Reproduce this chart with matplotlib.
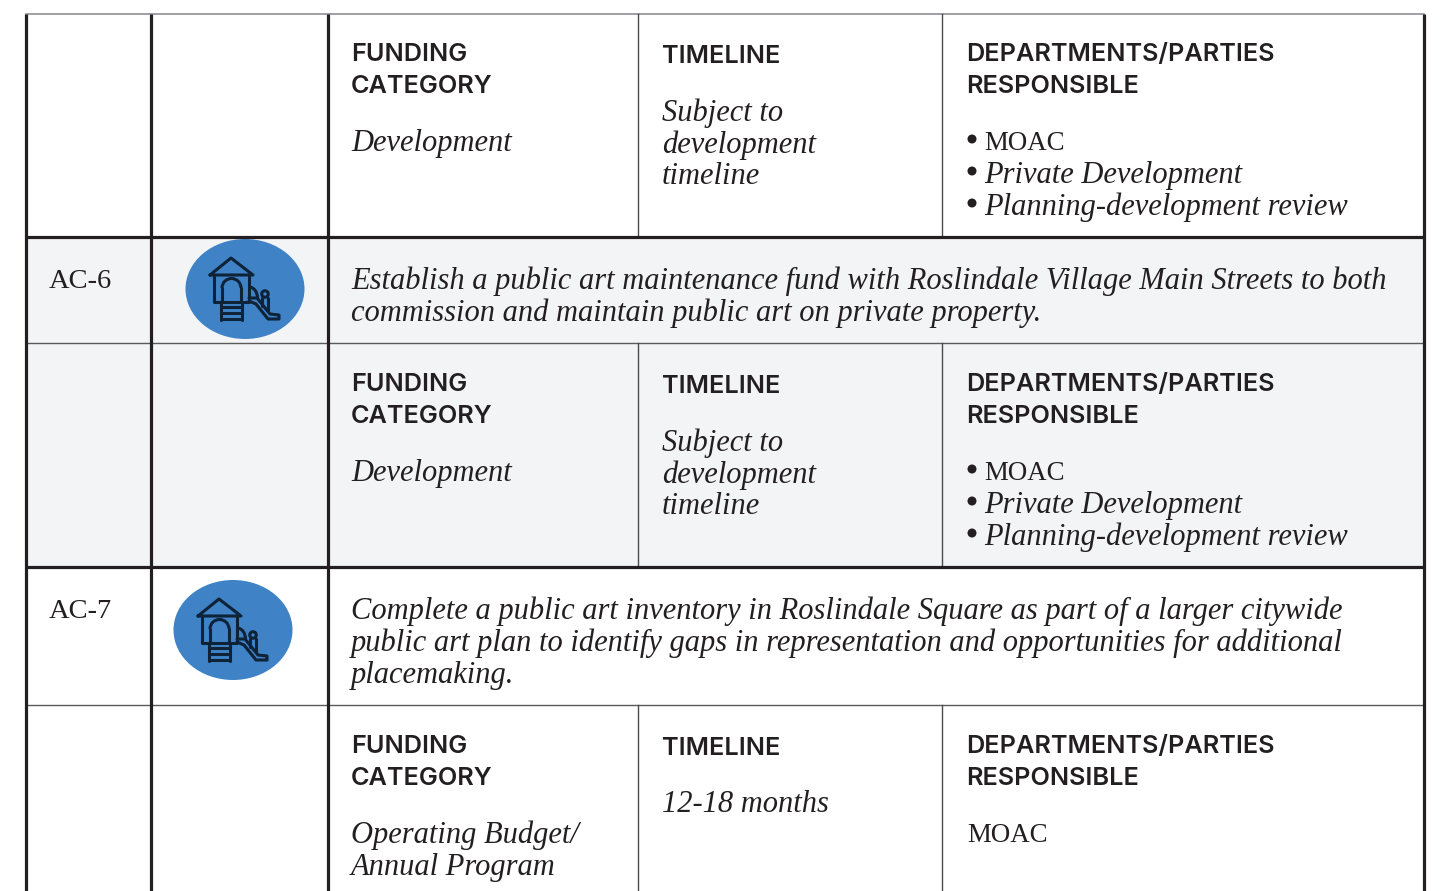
import matplotlib
matplotlib.use("Agg")
import matplotlib.pyplot as plt
from matplotlib.patches import Ellipse, Rectangle, Arc

W, H = 1440, 891
HEAD_FONT = "Inter"
BODY_FONT = "Liberation Serif"
INK = "#231f20"

action_ids = ["AC-6", "AC-7"]
descriptions = [
    ["Establish a public art maintenance fund with Roslindale Village Main Streets to both",
     "commission and maintain public art on private property."],
    ["Complete a public art inventory in Roslindale Square as part of a larger citywide",
     "public art plan to identify gaps in representation and opportunities for additional",
     "placemaking."],
]
funding_head = ["FUNDING", "CATEGORY"]
timeline_head = "TIMELINE"
dept_head = ["DEPARTMENTS/PARTIES", "RESPONSIBLE"]
funding_vals = [["Development"], ["Development"], ["Operating Budget/", "Annual Program"]]
timeline_vals = [["Subject to", "development", "timeline"],
                 ["Subject to", "development", "timeline"],
                 ["12-18 months"]]
dept_vals = [["MOAC", "Private Development", "Planning-development review"],
             ["MOAC", "Private Development", "Planning-development review"],
             ["MOAC"]]
dept_bullets = [True, True, False]

fig = plt.figure(figsize=(W / 100, H / 100), dpi=100)
ax = fig.add_axes([0, 0, 1, 1])
ax.set_xlim(0, W)
ax.set_ylim(H, 0)
ax.axis("off")


def head(x, y, s):
    ax.text(x, y, s, family=HEAD_FONT, weight="semibold", fontsize=18.2, color=INK, va="baseline")


def body(x, y, s, style="italic", size=22):
    ax.text(x, y + 1.5, s, family=BODY_FONT, style=style, fontsize=size, color=INK, va="baseline")


def detail_row(top, i):
    # top = y of the line above the row's heading block
    head(351, top + 47, funding_head[0])
    head(351, top + 79, funding_head[1])
    for k, s in enumerate(funding_vals[i]):
        body(351, top + 135 + 32 * k, s)
    head(662, top + 49, timeline_head)
    for k, s in enumerate(timeline_vals[i]):
        body(662, top + 105 + 32 * k, s)
    head(966, top + 47, dept_head[0])
    head(966, top + 79, dept_head[1])
    for k, s in enumerate(dept_vals[i]):
        yy = top + 135 + 32 * k
        if dept_bullets[i]:
            ax.add_patch(Ellipse((972, yy - 10), 9, 9, color=INK, lw=0))
            if k:
                body(984, yy, s)
            else:
                body(984, yy - 1, s, style="normal", size=19.4)
        else:
            body(967, yy - 1, s, style="normal", size=19.4)


def icon(cx, cy):
    ax.add_patch(Ellipse((cx, cy), 119, 100, color="#3f83c6", lw=0, zorder=2))
    c = "#0e2238"

    def ln(xs, ys, lw=2.2):
        ax.plot([cx + v for v in xs], [cy + v for v in ys], color=c, lw=lw,
                solid_capstyle="round", solid_joinstyle="round", zorder=3)
    ln([-35, -14, 8, -35], [-14, -31, -14, -14])
    ln([-31, -31, 4, 4], [-14, 13, 13, -14])
    ln([-23, -23], [13, -1])
    ln([-4, -4], [13, -1])
    ax.add_patch(Arc((cx - 13.5, cy - 1), 19, 19, theta1=180, theta2=360, color=c, lw=2.2, zorder=3))
    ln([-24, -24], [13, 31])
    ln([-3, -3], [13, 31])
    for dy in [18, 24, 30]:
        ln([-24, -3], [dy, dy])
    ax.add_patch(Arc((cx + 4, cy + 9), 17, 22, theta1=270, theta2=360, color=c, lw=2.2, zorder=3))
    ax.add_patch(Ellipse((cx + 20, cy + 5), 6.5, 6.5, fill=False, ec=c, lw=2.2, zorder=3))
    ln([17, 17], [9, 17])
    ln([23, 23], [9, 21])
    ln([4, 12, 25, 34, 34, 23, 11, 4], [9, 9, 25, 26, 30, 30, 15, 12])


# shaded rows
ax.add_patch(Rectangle((26, 237), 1398, 330, color="#f3f4f6", lw=0, zorder=0))

# rules: thin row/column lines first, heavy ones on top
for y in [343, 705]:
    ax.plot([26, 1424], [y, y], color="#5a5a5c", lw=1, zorder=1)
ax.plot([26, 1424], [14, 14], color="#8f9096", lw=1.2, zorder=1)
for x in [638, 942]:
    for y0, y1 in [(14, 237), (343, 567), (705, H)]:
        ax.plot([x, x], [y0, y1], color="#4a4a4c", lw=1, zorder=1)
for y in [237, 567]:
    ax.plot([26, 1424], [y, y], color=INK, lw=2.3, zorder=4, solid_capstyle="butt")
for x in [26, 151, 328, 1424]:
    ax.plot([x, x], [14, H], color=INK, lw=2.3, zorder=4, solid_capstyle="butt")

body(49, 286, action_ids[0], style="normal", size=20.5)
body(49, 616, action_ids[1], style="normal", size=20.5)
for k, s in enumerate(descriptions[0]):
    body(351, 288 + 32 * k, s)
for k, s in enumerate(descriptions[1]):
    body(351, 618 + 32 * k, s)

detail_row(14, 0)
detail_row(344, 1)
detail_row(706, 2)

icon(245, 289)
icon(233, 630)

fig.savefig("out.png", dpi=100)
